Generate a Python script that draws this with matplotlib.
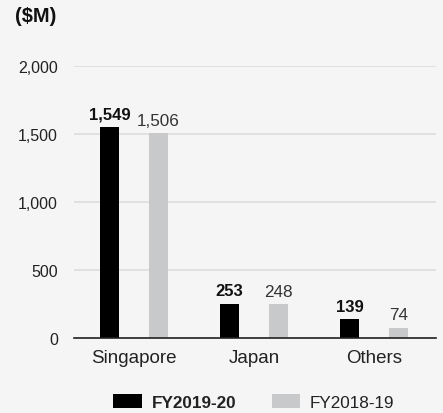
import matplotlib
matplotlib.use("Agg")
import matplotlib.pyplot as plt
import numpy as np

categories = ["Singapore", "Japan", "Others"]
fy2019_20 = [1549, 253, 139]
fy2018_19 = [1506, 248, 74]
series_names = ["FY2019-20", "FY2018-19"]
yticks = [0, 500, 1000, 1500, 2000]

plt.rcParams['font.family'] = ['Liberation Sans', 'DejaVu Sans']
bg = '#f6f5f6'
fig = plt.figure(figsize=(4.43, 4.14), dpi=100, facecolor=bg)
ax = fig.add_axes([74/443, 75/414, 362/443, 272/414])
ax.set_facecolor(bg)

x = np.arange(len(categories))
w = 0.158
off = 0.204
b1 = ax.bar(x - off, fy2019_20, w, color='#000000', label=series_names[0], zorder=3)
b2 = ax.bar(x + off, fy2018_19, w, color='#c8c9ca', label=series_names[1], zorder=3)

for xi, v in zip(x - off, fy2019_20):
    ax.annotate(f"{v:,}", (xi, v), xytext=(0, 4), textcoords='offset points',
                ha='center', va='bottom', fontsize=12, fontweight='bold', color='#111111')
for xi, v in zip(x + off, fy2018_19):
    ax.annotate(f"{v:,}", (xi, v), xytext=(0, 4), textcoords='offset points',
                ha='center', va='bottom', fontsize=12.3, color='#333333')

ax.set_xlim(-0.5, 2.517)
ax.set_ylim(0, 2000)
ax.set_yticks(yticks)
ax.set_yticklabels([f"{t:,}" for t in yticks], fontsize=11.5, color='#222222')
ax.set_xticks(x)
ax.set_xticklabels(categories, fontsize=13.5, color='#222222')
ax.tick_params(axis='y', length=0, pad=11.5)
ax.tick_params(axis='x', length=0, pad=8)
ax.grid(axis='y', color='#dcdcdc', linewidth=1.2, zorder=0)
for s in ['top', 'right', 'left']:
    ax.spines[s].set_visible(False)
ax.spines['bottom'].set_color('#222222')
ax.spines['bottom'].set_linewidth(1.2)
ax.spines['bottom'].set_zorder(4)

fig.text(36/443, 1 - 17/414, "($M)", ha='center', va='center', fontsize=14.5,
         fontweight='bold', color='#111111')

leg = fig.legend(handles=[b1, b2], labels=series_names, loc='center',
                 bbox_to_anchor=(254/443, 11/414), ncol=2, frameon=False,
                 fontsize=12.3, handlelength=1.65, handleheight=0.88,
                 handletextpad=0.6, columnspacing=2.05)
leg.get_texts()[0].set_fontweight('bold')
for t in leg.get_texts():
    t.set_color('#222222')

fig.savefig("out.png", dpi=100, facecolor=bg)
